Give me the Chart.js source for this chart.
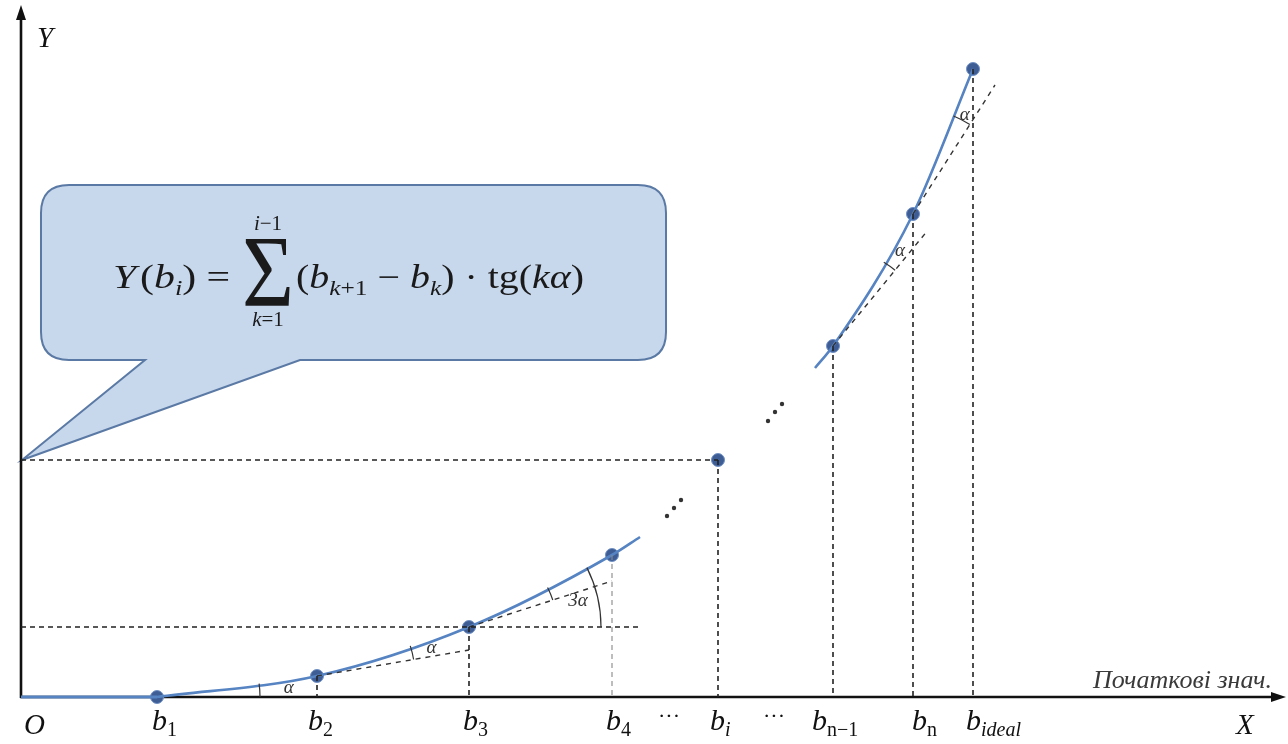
<!DOCTYPE html>
<html>
<head>
<meta charset="utf-8">
<script src="https://cdn.jsdelivr.net/npm/chart.js@4"></script>
<style>
  html, body { margin: 0; padding: 0; background: #fff; }
  #wrap { width: 1288px; height: 744px; position: relative; }
</style>
</head>
<body>
<div id="wrap"><canvas id="diagram"></canvas></div>
<script>
// values of the points b1 ... b_ideal (X = initial value, Y = accumulated value)
const bNames = ['1', '2', '3', '4', 'i', 'n−1', 'n', 'ideal'];
const bX = [136, 296, 448, 591, 697, 812, 892, 952];
const bY = [0, 21, 70, 142, 237, 351, 483, 628];

// curve pieces beyond the marked points
const lowerTail = { x: 619, y: 160 };
const upperHead = { x: 794, y: 329 };

// dashed tangents: start at point index, end at (x, y)
const tangentFrom = [1, 2, 5, 6];
const tangentToX = [448, 591, 907, 974];
const tangentToY = [47, 116, 467, 612];

// horizontal guides: level from point index, right end
const guideFrom = [4, 2];
const guideToX = [697, 619];

// "..." between the two groups
const dotsX = [646, 653, 660, 747, 754, 761];
const dotsY = [181, 189, 197, 276, 285, 293];

const SERIF = "'Liberation Serif', 'DejaVu Serif', serif";
const BLUE = '#5683c2';
const DOT = '#3e5d95';

function pts(xs, ys) { return xs.map((x, i) => ({ x: x, y: ys[i] })); }

const datasets = [];
const dashed = { borderColor: '#222', borderWidth: 1.6, borderDash: [5, 4], pointRadius: 0, showLine: true, fill: false };

// drop lines to the X axis
bX.forEach((x, i) => {
    if (i === 0) return;
    datasets.push(Object.assign({}, dashed, {
        data: [{ x: x, y: bY[i] }, { x: x, y: 0 }],
        borderColor: i === 3 ? '#888' : '#222',
        borderWidth: i === 3 ? 1.1 : 1.6
    }));
});
// horizontal guides from the Y axis
guideFrom.forEach((k, i) => {
    datasets.push(Object.assign({}, dashed, { data: [{ x: 0, y: bY[k] }, { x: guideToX[i], y: bY[k] }] }));
});
// tangents
tangentFrom.forEach((k, i) => {
    datasets.push(Object.assign({}, dashed, {
        borderDash: [5, 5], borderWidth: 1.4, borderColor: '#333',
        data: [{ x: bX[k], y: bY[k] }, { x: tangentToX[i], y: tangentToY[i] }]
    }));
});
// flat part O..b1
datasets.push({ data: [{ x: 0, y: 0 }, { x: bX[0], y: 0 }], showLine: true, borderColor: BLUE, borderWidth: 3, pointRadius: 0 });
// lower curve
datasets.push({
    data: pts(bX.slice(0, 4), bY.slice(0, 4)).concat([lowerTail]),
    showLine: true, borderColor: BLUE, borderWidth: 2.6, pointRadius: 0, cubicInterpolationMode: 'monotone'
});
// upper curve
datasets.push({
    data: [upperHead].concat(pts(bX.slice(5), bY.slice(5))),
    showLine: true, borderColor: BLUE, borderWidth: 2.6, pointRadius: 0, cubicInterpolationMode: 'monotone'
});
// ellipsis dots
datasets.push({ data: pts(dotsX, dotsY), showLine: false, pointRadius: 2.2, pointBackgroundColor: '#333', pointBorderWidth: 0 });
// the points themselves
datasets.push({ data: pts(bX, bY), showLine: false, pointRadius: 6.5, pointBackgroundColor: DOT, pointBorderColor: '#6f90c4', pointBorderWidth: 1 });

// angle marks: vertex index, first ray target (null = horizontal), second ray target, radius, label
const arcs = [
    { at: 0, from: null, to: 1, r: 103, label: 'α', lr: 132 },
    { at: 1, from: { x: tangentToX[0], y: tangentToY[0] }, to: 2, r: 98, label: 'α', lr: 118 },
    { at: 2, from: { x: tangentToX[1], y: tangentToY[1] }, to: 3, r: 88, label: '', lr: 0 },
    { at: 2, from: null, to: 3, r: 132, label: '3α', lr: 112 },
    { at: 5, from: { x: tangentToX[2], y: tangentToY[2] }, to: 6, r: 98, label: 'α', lr: 116 },
    { at: 6, from: { x: tangentToX[3], y: tangentToY[3] }, to: 7, r: 106, label: 'α', lr: 112 }
];

function runs(ctx, x, y, parts) {
    parts.forEach(p => {
        ctx.font = p.f;
        ctx.fillText(p.t, x, y + (p.dy || 0));
        x += ctx.measureText(p.t).width + (p.gap || 0);
    });
    return x;
}
function runsWidth(ctx, parts) {
    let w = 0;
    parts.forEach(p => { ctx.font = p.f; w += ctx.measureText(p.t).width + (p.gap || 0); });
    return w;
}
// draw a run squeezed/stretched to fit [x0, x1]
function runsFit(ctx, x0, x1, y, parts) {
    const w = runsWidth(ctx, parts);
    ctx.save();
    ctx.translate(x0, 0);
    ctx.scale((x1 - x0) / w, 1);
    runs(ctx, 0, y, parts);
    ctx.restore();
}

const diagramPlugin = {
    id: 'diagram',
    beforeDatasetsDraw(chart) {
        const ctx = chart.ctx;
        const sx = chart.scales.x, sy = chart.scales.y;
        const X = v => sx.getPixelForValue(v), Y = v => sy.getPixelForValue(v);
        ctx.save();

        // callout bubble pointing at Y(b_i)
        const l = 41, t = 185, r = 666, b = 360, rad = 28;
        const ax = X(0) + 1, ay = Y(bY[4]);
        ctx.beginPath();
        ctx.moveTo(l + rad, t);
        ctx.lineTo(r - rad, t);
        ctx.quadraticCurveTo(r, t, r, t + rad);
        ctx.lineTo(r, b - rad);
        ctx.quadraticCurveTo(r, b, r - rad, b);
        ctx.lineTo(300, b);
        ctx.lineTo(ax, ay);
        ctx.lineTo(145, b);
        ctx.lineTo(l + rad, b);
        ctx.quadraticCurveTo(l, b, l, b - rad);
        ctx.lineTo(l, t + rad);
        ctx.quadraticCurveTo(l, t, l + rad, t);
        ctx.closePath();
        ctx.fillStyle = '#c7d7ec';
        ctx.fill();
        ctx.strokeStyle = '#5a79a4';
        ctx.lineWidth = 2;
        ctx.stroke();

        // formula Y(b_i) = sum_{k=1}^{i-1} (b_{k+1} - b_k) * tg(k alpha)
        ctx.fillStyle = '#1a1a1a';
        ctx.textBaseline = 'alphabetic';
        ctx.textAlign = 'left';
        const it = s => 'italic ' + s + 'px ' + SERIF, rm = s => s + 'px ' + SERIF;
        const base = 288, fs = 33, ss = 21;
        runsFit(ctx, 113, 230, base, [
            { t: 'Y', f: it(fs), gap: 3 }, { t: '(', f: rm(fs) }, { t: 'b', f: it(fs) },
            { t: 'i', f: it(ss), dy: 7 }, { t: ')', f: rm(fs), gap: 8 }, { t: '=', f: rm(fs) }
        ]);
        // big sigma, stretched to its box
        ctx.font = rm(64);
        const sw = ctx.measureText('Σ').width;
        ctx.save();
        ctx.translate(242, 306);
        ctx.scale(52 / sw, 1.6);
        ctx.fillText('Σ', 0, 0);
        ctx.restore();
        const cx = 268;
        const top = [{ t: 'i', f: it(ss) }, { t: '−1', f: rm(ss) }];
        const bot = [{ t: 'k', f: it(ss) }, { t: '=1', f: rm(ss) }];
        runs(ctx, cx - runsWidth(ctx, top) / 2, 230, top);
        runs(ctx, cx - runsWidth(ctx, bot) / 2, 326, bot);
        runsFit(ctx, 296, 584, base, [
            { t: '(', f: rm(fs) }, { t: 'b', f: it(fs) }, { t: 'k', f: it(ss), dy: 7 }, { t: '+1', f: rm(ss), dy: 7 },
            { t: ' − ', f: rm(fs) }, { t: 'b', f: it(fs) }, { t: 'k', f: it(ss), dy: 7 }, { t: ')', f: rm(fs) },
            { t: ' · ', f: rm(fs) }, { t: 'tg', f: rm(fs) }, { t: '(', f: rm(fs) },
            { t: 'kα', f: it(fs) }, { t: ')', f: rm(fs) }
        ]);

        // axes with arrows
        ctx.strokeStyle = '#111';
        ctx.fillStyle = '#111';
        ctx.lineWidth = 2.6;
        ctx.beginPath();
        ctx.moveTo(X(0), Y(0) + 1);
        ctx.lineTo(X(0), 16);
        ctx.moveTo(X(0) - 1, Y(0));
        ctx.lineTo(1276, Y(0));
        ctx.stroke();
        ctx.beginPath();
        ctx.moveTo(X(0), 5); ctx.lineTo(X(0) - 5, 20); ctx.lineTo(X(0) + 5, 20); ctx.closePath();
        ctx.moveTo(1286, Y(0)); ctx.lineTo(1271, Y(0) - 5); ctx.lineTo(1271, Y(0) + 5); ctx.closePath();
        ctx.fill();
        ctx.restore();
    },
    afterDatasetsDraw(chart) {
        const ctx = chart.ctx;
        const sx = chart.scales.x, sy = chart.scales.y;
        const X = v => sx.getPixelForValue(v), Y = v => sy.getPixelForValue(v);
        ctx.save();

        // angle arcs
        ctx.strokeStyle = '#333';
        ctx.lineWidth = 1.2;
        ctx.fillStyle = '#333';
        ctx.textAlign = 'center';
        ctx.textBaseline = 'middle';
        arcs.forEach(a => {
            const cx = X(bX[a.at]), cy = Y(bY[a.at]);
            const a1 = a.from ? Math.atan2(Y(a.from.y) - cy, X(a.from.x) - cx) : 0;
            const a2 = Math.atan2(Y(bY[a.to]) - cy, X(bX[a.to]) - cx);
            ctx.beginPath();
            ctx.arc(cx, cy, a.r, Math.min(a1, a2), Math.max(a1, a2));
            ctx.stroke();
            if (a.label) {
                const m = (a1 + a2) / 2;
                ctx.font = 'italic 19px ' + SERIF;
                ctx.fillText(a.label, cx + Math.cos(m) * a.lr, cy + Math.sin(m) * a.lr);
            }
        });

        // labels under the X axis
        ctx.textAlign = 'left';
        ctx.textBaseline = 'alphabetic';
        ctx.fillStyle = '#111';
        const shift = [-5, -9, -6, -6, -8, -21, -1, -7];
        bX.forEach((v, i) => {
            const upright = /[0-9]/.test(bNames[i]) || bNames[i] === 'n';
            runs(ctx, X(v) + shift[i], 730, [
                { t: 'b', f: 'italic 30px ' + SERIF },
                { t: bNames[i], f: (upright ? '' : 'italic ') + '20px ' + SERIF, dy: 6 }
            ]);
        });
        ctx.font = '22px ' + SERIF;
        ctx.textAlign = 'center';
        ctx.fillText('···', 669, 723);
        ctx.fillText('···', 774, 723);
        ctx.textAlign = 'left';
        ctx.font = 'italic 29px ' + SERIF;
        ctx.fillText('O', 24, 734);
        ctx.fillText('X', 1236, 734);
        ctx.fillText('Y', 37, 47);
        ctx.fillStyle = '#3a3a3a';
        ctx.font = 'italic 26px ' + SERIF;
        ctx.textAlign = 'right';
        ctx.fillText('Початкові знач.', 1272, 688);
        ctx.restore();
    }
};

new Chart(document.getElementById('diagram'), {
    type: 'scatter',
    data: { datasets: datasets },
    options: {
        responsive: true,
        maintainAspectRatio: false,
        animation: false,
        layout: { padding: 0, autoPadding: false },
        plugins: { legend: { display: false }, tooltip: { enabled: false } },
        scales: {
            x: { type: 'linear', min: -21, max: 1267, display: false },
            y: { type: 'linear', min: -47, max: 697, display: false }
        }
    },
    plugins: [diagramPlugin]
});
</script>
</body>
</html>
